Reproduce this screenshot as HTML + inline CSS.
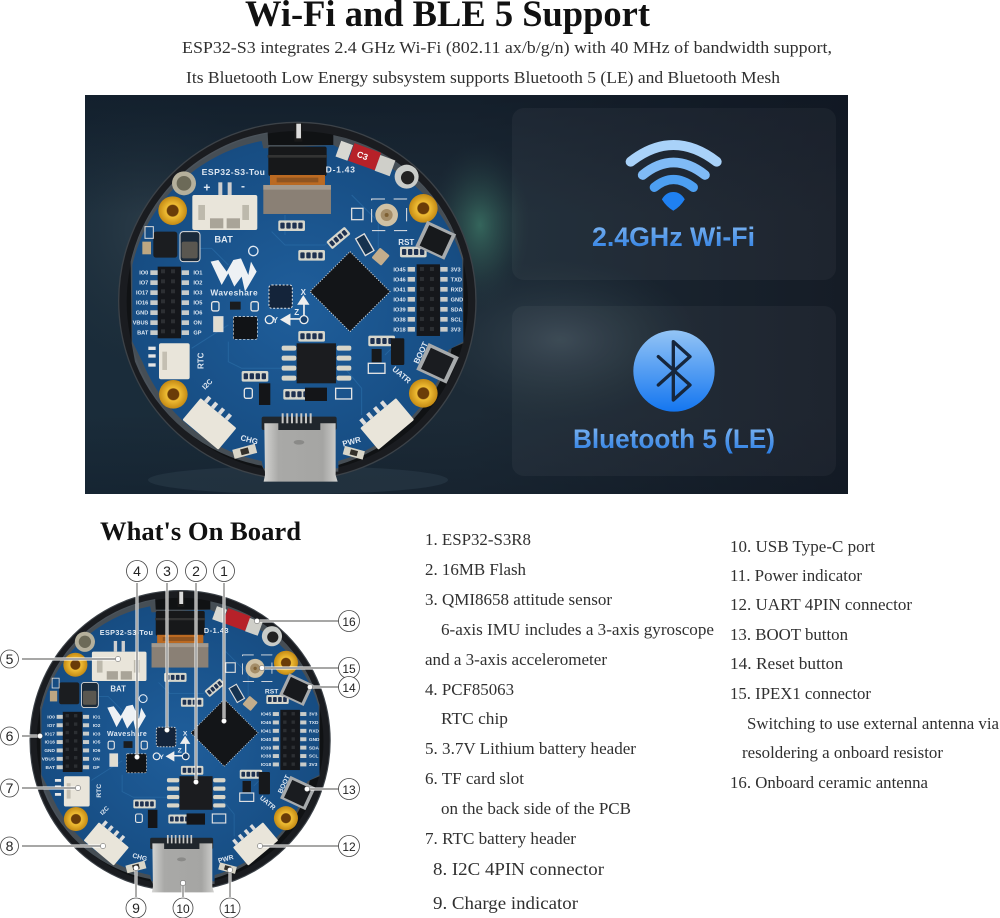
<!DOCTYPE html>
<html><head><meta charset="utf-8"><style>
html,body{margin:0;padding:0;background:#fff}
svg{display:block}
.s{font-family:"Liberation Serif",serif;fill:#303030;font-size:17px}
.p{font-family:"Liberation Sans",sans-serif;font-weight:700;fill:#dfe8f2}
.n{font-family:"Liberation Sans",sans-serif;font-size:14px;fill:#222;text-anchor:middle}
</style></head><body>
<svg width="1000" height="918" viewBox="0 0 1000 918" xmlns="http://www.w3.org/2000/svg">
<defs>
<linearGradient id="bg" x1="0" y1="0" x2="1" y2="0"><stop offset="0" stop-color="#1a2c3a"/><stop offset=".5" stop-color="#1c2a36"/><stop offset="1" stop-color="#151c26"/></linearGradient>
<linearGradient id="bgv" x1="0" y1="0" x2="0" y2="1"><stop offset="0" stop-color="#0c1420" stop-opacity=".5"/><stop offset=".3" stop-color="#0c1420" stop-opacity="0"/><stop offset=".8" stop-color="#0c1420" stop-opacity="0"/><stop offset="1" stop-color="#0c1420" stop-opacity=".3"/></linearGradient>
<radialGradient id="glow"><stop offset="0" stop-color="#3f7f6c" stop-opacity=".7"/><stop offset=".55" stop-color="#37655c" stop-opacity=".3"/><stop offset="1" stop-color="#2a4048" stop-opacity="0"/></radialGradient>
<radialGradient id="glow2"><stop offset="0" stop-color="#41515c" stop-opacity=".7"/><stop offset="1" stop-color="#2a3a44" stop-opacity="0"/></radialGradient>
<linearGradient id="txt" x1="0" y1="0" x2="0" y2="1"><stop offset="0" stop-color="#82b8f2"/><stop offset="1" stop-color="#2a7ce2"/></linearGradient>
<linearGradient id="bt" x1="0" y1="0" x2="0" y2="1"><stop offset="0" stop-color="#93c4f5"/><stop offset="1" stop-color="#1476f0"/></linearGradient>
<radialGradient id="pcb" cx=".5" cy=".5" r=".55"><stop offset="0" stop-color="#1f5e9b"/><stop offset="1" stop-color="#164b80"/></radialGradient>
<linearGradient id="usb" x1="0" y1="0" x2="1" y2="0"><stop offset="0" stop-color="#d5d5d3"/><stop offset=".2" stop-color="#a9a9a7"/><stop offset=".8" stop-color="#a5a5a3"/><stop offset="1" stop-color="#d0d0ce"/></linearGradient>
<radialGradient id="gold"><stop offset="0" stop-color="#6a3c08"/><stop offset=".38" stop-color="#6a3c08"/><stop offset=".45" stop-color="#f0bd34"/><stop offset="1" stop-color="#c48a14"/></radialGradient>

<g id="hdr">
 <rect x="0" y="0" width="70" height="215" fill="#15171b"/>
 <g fill="#2c2f33"><rect x="10" y="8" width="12" height="12"/><rect x="40" y="8" width="12" height="12"/><rect x="10" y="38" width="12" height="12"/><rect x="40" y="38" width="12" height="12"/><rect x="10" y="68" width="12" height="12"/><rect x="40" y="68" width="12" height="12"/><rect x="10" y="98" width="12" height="12"/><rect x="40" y="98" width="12" height="12"/><rect x="10" y="128" width="12" height="12"/><rect x="40" y="128" width="12" height="12"/><rect x="10" y="158" width="12" height="12"/><rect x="40" y="158" width="12" height="12"/><rect x="10" y="188" width="12" height="12"/><rect x="40" y="188" width="12" height="12"/></g>
</g>
<g id="pads"><rect x="0" y="0" width="22" height="14"/><rect x="0" y="30" width="22" height="14"/><rect x="0" y="60" width="22" height="14"/><rect x="0" y="90" width="22" height="14"/><rect x="0" y="120" width="22" height="14"/><rect x="0" y="150" width="22" height="14"/><rect x="0" y="180" width="22" height="14"/></g>
<g id="cluster"><rect x="0" y="0" width="80" height="32" rx="5" fill="#d6d6cc"/><g fill="#1d3050"><rect x="6" y="7" width="13" height="18" rx="3"/><rect x="24" y="7" width="13" height="18" rx="3"/><rect x="42" y="7" width="13" height="18" rx="3"/><rect x="60" y="7" width="13" height="18" rx="3"/></g></g>

<g id="board">
 <circle cx="637" cy="618" r="536" fill="#1a1c20" stroke="#3c4248" stroke-width="4"/>
 <circle cx="637" cy="620" r="512" fill="#101214"/>
 <path d="M137 500A508 508 0 0 1 548 112L550 150 745 150 745 120A508 508 0 0 1 1135 490L1135 745 1100 760 1092 800A505 505 0 0 1 760 1110L760 1130 540 1130 530 1112A505 505 0 0 1 150 800L140 745Z" fill="#7c8a96" opacity=".5"/>
 <path d="M142 510A492 492 0 0 1 530 138L535 160 745 150 760 158A488 488 0 0 1 1132 495L1135 740 1090 765 1080 810A488 488 0 0 1 760 1098L760 1120 535 1120 530 1098A488 488 0 0 1 172 800L142 740Z" fill="url(#pcb)"/>
 <g fill="none" stroke="#2a6ca6" stroke-width="3" opacity=".7"><path d="M560 410L600 450H720L760 410"/><path d="M430 740V800L470 820H620"/><path d="M800 300L880 380V460"/><path d="M320 760L430 690"/><path d="M780 820L830 880V960"/><path d="M600 360V420"/><path d="M300 460H380L430 510"/><path d="M950 730L900 780"/></g>
 <rect x="628" y="85" width="24" height="55" fill="#1a1a1a"/><rect x="634" y="86" width="14" height="44" fill="#dcdcdc"/>
 <rect x="550" y="155" width="175" height="88" rx="6" fill="#17181a"/>
 <rect x="548" y="180" width="178" height="8" fill="#333"/>
 <rect x="555" y="240" width="165" height="30" fill="#bb6a22"/>
 <rect x="575" y="248" width="125" height="14" fill="#8f5420"/>
 <rect x="535" y="270" width="203" height="87" fill="#8a8075"/>
 <rect x="535" y="270" width="203" height="14" fill="#a49a8e"/>
 <g transform="rotate(20 840 190)"><rect x="755" y="165" width="38" height="50" fill="#d8d8d2"/><rect x="795" y="158" width="85" height="56" fill="#b72129"/><rect x="880" y="165" width="48" height="50" fill="#cfcfc9"/></g>
 <circle cx="965" cy="245" r="36" fill="#c9ccc9"/><circle cx="968" cy="248" r="20" fill="#222"/>
 <circle cx="297" cy="265" r="36" fill="#b5b09c"/><circle cx="297" cy="265" r="22" fill="#6c6a58"/>
 <circle cx="263" cy="347" r="43" fill="url(#gold)"/><circle cx="1015" cy="340" r="43" fill="url(#gold)"/><circle cx="265" cy="898" r="43" fill="url(#gold)"/><circle cx="1015" cy="895" r="43" fill="url(#gold)"/>
 <rect x="322" y="300" width="195" height="105" rx="6" fill="#e9e5da"/><rect x="340" y="330" width="20" height="45" fill="#bdb9ac"/><rect x="472" y="330" width="20" height="45" fill="#bdb9ac"/><rect x="375" y="370" width="40" height="30" fill="#a9a498"/><rect x="425" y="370" width="40" height="30" fill="#a9a498"/>
 <rect x="400" y="262" width="12" height="38" fill="#cfcfcf"/><rect x="428" y="262" width="12" height="38" fill="#cfcfcf"/>
 <rect x="205" y="410" width="72" height="78" rx="8" fill="#1b1d20"/>
 <rect x="285" y="410" width="60" height="90" rx="10" fill="#1a2a3a" stroke="#ddd" stroke-width="3"/><rect x="290" y="440" width="48" height="50" rx="6" fill="#5a5750"/>
 <rect x="172" y="440" width="26" height="38" fill="#bda782"/>
 <rect x="180" y="395" width="25" height="35" fill="none" stroke="#ddd" stroke-width="3"/>
 <use href="#hdr" x="218" y="515"/><use href="#hdr" x="995" y="508"/>
 <g fill="#c9ccca"><use href="#pads" x="196" y="526"/><use href="#pads" x="290" y="526"/><use href="#pads" x="968" y="516"/><use href="#pads" x="1066" y="516"/></g>
 <path d="M377 500L400 495 425 530 445 495 468 490 490 540 498 500 515 530 480 590 470 545 448 575 430 535 410 570Z" fill="#eef1f4"/>
 <circle cx="505" cy="468" r="14" fill="none" stroke="#dfe8f2" stroke-width="4"/>
 <rect x="386" y="665" width="28" height="45" fill="#e1ddd0" stroke="#ddd" stroke-width="3"/>
 <rect x="380" y="620" width="22" height="28" rx="6" fill="none" stroke="#e5e5e5" stroke-width="4"/><rect x="498" y="620" width="22" height="28" rx="6" fill="none" stroke="#e5e5e5" stroke-width="4"/>
 <rect x="435" y="620" width="32" height="24" fill="#1a1c1e"/>
 <rect x="445" y="665" width="72" height="68" rx="4" fill="#111316" stroke="#e6e6e6" stroke-width="2" stroke-dasharray="7 5"/>
 <rect x="552" y="570" width="70" height="70" rx="8" fill="#14243a" stroke="#e6e6e6" stroke-width="3" stroke-dasharray="6 5"/>
 <path d="M657 672V610M655 605l-14 22h28zM657 672H595M590 674l24-14v28z" stroke="#eee" stroke-width="5" fill="#eee"/>
 <circle cx="657" cy="674" r="12" fill="#163f6c" stroke="#eee" stroke-width="4"/>
 <circle cx="553" cy="674" r="12" fill="none" stroke="#eee" stroke-width="4"/>
 <path d="M795 470L915 590 795 710 675 590Z" fill="#131518" stroke="#e8e8e8" stroke-width="3" stroke-dasharray="3 5"/>
 <use href="#cluster" x="580" y="376"/><use href="#cluster" x="640" y="465"/><use href="#cluster" x="640" y="708"/><use href="#cluster" x="470" y="828"/><use href="#cluster" x="595" y="882"/>
 <use href="#cluster" transform="rotate(-40 760 430) translate(725 415) scale(.9)"/>
 <use href="#cluster" x="850" y="722"/><use href="#cluster" x="945" y="455"/>
 <rect x="800" y="340" width="34" height="34" fill="none" stroke="#ddd" stroke-width="4"/>
 <rect x="860" y="312" width="105" height="95" fill="none" stroke="#e5e5e5" stroke-width="3" stroke-dasharray="40 26"/>
 <circle cx="905" cy="360" r="34" fill="#cfc1a4"/><circle cx="905" cy="360" r="18" fill="#a48d68"/><circle cx="905" cy="360" r="6" fill="#7e6033"/>
 <rect x="868" y="465" width="38" height="40" rx="4" fill="#c3ad8c" transform="rotate(40 887 485)"/>
 <rect x="825" y="420" width="30" height="58" fill="#15324f" stroke="#ddd" stroke-width="4" transform="rotate(-30 840 450)"/>
 <g transform="rotate(25 1055 435)"><rect x="1005" y="395" width="96" height="84" fill="#a7aaac"/><rect x="1016" y="404" width="74" height="68" fill="#17191c"/></g>
 <g transform="rotate(25 1060 805)"><rect x="1008" y="762" width="100" height="88" fill="#a7aaac"/><rect x="1020" y="772" width="76" height="70" fill="#1a1c20"/></g>
 <rect x="635" y="745" width="118" height="120" fill="#1b1c1f"/>
 <g fill="#d8d5c8"><rect x="590" y="752" width="44" height="15" rx="6"/><rect x="590" y="782" width="44" height="15" rx="6"/><rect x="590" y="812" width="44" height="15" rx="6"/><rect x="590" y="842" width="44" height="15" rx="6"/><rect x="755" y="752" width="44" height="15" rx="6"/><rect x="755" y="782" width="44" height="15" rx="6"/><rect x="755" y="812" width="44" height="15" rx="6"/><rect x="755" y="842" width="44" height="15" rx="6"/></g>
 <rect x="660" y="878" width="66" height="40" fill="#141518"/>
 <rect x="522" y="865" width="34" height="65" fill="#141518"/>
 <rect x="478" y="880" width="24" height="30" rx="6" fill="none" stroke="#e5e5e5" stroke-width="4"/>
 <rect x="752" y="880" width="48" height="32" fill="none" stroke="#e5e5e5" stroke-width="4"/>
 <rect x="918" y="730" width="40" height="80" rx="4" fill="#17191c"/><rect x="860" y="762" width="30" height="40" fill="#17191c"/>
 <rect x="850" y="805" width="50" height="30" fill="none" stroke="#e5e5e5" stroke-width="4"/>
 <rect x="222" y="745" width="92" height="108" rx="6" fill="#e9e5da"/><rect x="232" y="770" width="14" height="55" fill="#c4bfb2"/>
 <g fill="#e5e5e5"><rect x="190" y="755" width="22" height="10"/><rect x="190" y="778" width="22" height="10"/><rect x="190" y="805" width="22" height="10"/></g>
 <g transform="rotate(40 375 985)"><rect x="305" y="945" width="140" height="85" rx="4" fill="#e9e5da"/><rect x="318" y="925" width="12" height="20" fill="#ddd"/><rect x="345" y="925" width="12" height="20" fill="#ddd"/><rect x="372" y="925" width="12" height="20" fill="#ddd"/><rect x="399" y="925" width="12" height="20" fill="#ddd"/></g>
 <g transform="rotate(-40 905 985)"><rect x="835" y="945" width="140" height="85" rx="4" fill="#e9e5da"/><rect x="848" y="925" width="12" height="20" fill="#ddd"/><rect x="875" y="925" width="12" height="20" fill="#ddd"/><rect x="902" y="925" width="12" height="20" fill="#ddd"/><rect x="929" y="925" width="12" height="20" fill="#ddd"/></g>
 <g transform="rotate(-15 480 1072)"><rect x="445" y="1055" width="70" height="28" fill="#d8d5c8"/><rect x="468" y="1060" width="24" height="18" fill="#33302a"/></g>
 <g transform="rotate(15 805 1075)"><rect x="775" y="1060" width="62" height="26" fill="#d8d5c8"/><rect x="795" y="1065" width="22" height="16" fill="#33302a"/></g>
 <rect x="530" y="965" width="225" height="40" rx="6" fill="#20262c"/>
 <g fill="#c7c7c5"><rect x="590" y="955" width="6" height="30"/><rect x="604" y="955" width="6" height="30"/><rect x="618" y="955" width="6" height="30"/><rect x="632" y="955" width="6" height="30"/><rect x="646" y="955" width="6" height="30"/><rect x="660" y="955" width="6" height="30"/><rect x="674" y="955" width="6" height="30"/></g>
 <path d="M538 985H580V1005H706V985H752V1140L758 1160H536L540 1140Z" fill="url(#usb)"/>
 <ellipse cx="642" cy="1042" rx="16" ry="7" fill="#8a8a88"/>
</g>
</defs>

<text x="245" y="26" textLength="405" lengthAdjust="spacingAndGlyphs" font-family="Liberation Serif,serif" font-weight="700" font-size="37" fill="#111">Wi-Fi and BLE 5 Support</text>
<text class="s" x="182" y="53" textLength="650" lengthAdjust="spacingAndGlyphs">ESP32-S3 integrates 2.4 GHz Wi-Fi (802.11 ax/b/g/n) with 40 MHz of bandwidth support,</text>
<text class="s" x="186" y="83" textLength="594" lengthAdjust="spacingAndGlyphs">Its Bluetooth Low Energy subsystem supports Bluetooth 5 (LE) and Bluetooth Mesh</text>

<rect x="85" y="95" width="763" height="399" fill="url(#bg)"/>
<g clip-path="url(#panelclip)">
 <clipPath id="panelclip"><rect x="85" y="95" width="763" height="399"/></clipPath>
 <ellipse cx="480" cy="225" rx="50" ry="85" fill="url(#glow)"/>
 <ellipse cx="150" cy="230" rx="120" ry="140" fill="url(#glow2)" opacity=".6"/>
 <ellipse cx="560" cy="340" rx="140" ry="80" fill="url(#glow2)"/>
 <rect x="85" y="95" width="763" height="399" fill="url(#bgv)"/>
 <ellipse cx="298" cy="480" rx="150" ry="14" fill="#2b3d4c" opacity=".5"/>
 <rect x="512" y="108" width="324" height="172" rx="12" fill="#fff" opacity=".04"/>
 <rect x="512" y="306" width="324" height="170" rx="12" fill="#fff" opacity=".04"/>
</g>
<g transform="translate(85 95) scale(.3333)"><use href="#board"/>
 <g class="p" font-size="26"><text x="350" y="240" textLength="190">ESP32-S3-Tou</text><text x="722" y="233" textLength="88">D-1.43</text><text x="388" y="442" font-size="28">BAT</text><text x="376" y="601" font-size="25" textLength="142">Waveshare</text><text x="940" y="450" font-size="24">RST</text><text x="355" y="290" font-size="36">+</text><text x="468" y="285" font-size="36">-</text><text transform="translate(355 822) rotate(-90)" font-size="24">RTC</text><text transform="translate(1000 808) rotate(-65)" font-size="24">BOOT</text><text transform="translate(920 825) rotate(40)" font-size="24">UATR</text><text transform="translate(360 885) rotate(-45)" font-size="22">I2C</text><text transform="translate(465 1035) rotate(15)" font-size="24">CHG</text><text transform="translate(775 1055) rotate(-15)" font-size="24">PWR</text><text x="815" y="192" font-size="26" transform="rotate(20 835 185)" fill="#fff">C3</text><text x="647" y="600" font-size="24">X</text><text x="628" y="660" font-size="24">Z</text><text x="563" y="684" font-size="24">Y</text></g>
 <g class="p" font-size="17" text-anchor="end"><text x="190" y="539">IO0</text><text x="190" y="569">IO7</text><text x="190" y="599">IO17</text><text x="190" y="629">IO16</text><text x="190" y="659">GND</text><text x="190" y="689">VBUS</text><text x="190" y="719">BAT</text><text x="962" y="529">IO45</text><text x="962" y="559">IO46</text><text x="962" y="589">IO41</text><text x="962" y="619">IO40</text><text x="962" y="649">IO39</text><text x="962" y="679">IO38</text><text x="962" y="709">IO18</text></g>
 <g class="p" font-size="17"><text x="325" y="539">IO1</text><text x="325" y="569">IO2</text><text x="325" y="599">IO3</text><text x="325" y="629">IO5</text><text x="325" y="659">IO6</text><text x="325" y="689">ON</text><text x="325" y="719">GP</text><text x="1097" y="529">3V3</text><text x="1097" y="559">TXD</text><text x="1097" y="589">RXD</text><text x="1097" y="619">GND</text><text x="1097" y="649">SDA</text><text x="1097" y="679">SCL</text><text x="1097" y="709">3V3</text></g>
</g>

<g transform="translate(510 100) scale(.3333)" fill="none" stroke-linecap="round">
 <path d="M362 185Q490 85 620 185" stroke="#a9d2f9" stroke-width="30"/>
 <path d="M398 225Q490 150 585 225" stroke="#80bbf6" stroke-width="29"/>
 <path d="M433 262Q490 215 550 262" stroke="#4d9ff1" stroke-width="28"/>
 <path d="M490 278Q510 278 522 298 510 318 490 330 470 318 458 298 470 278 490 278Z" fill="#1f80f1" stroke="#1f80f1" stroke-width="4"/>
 <circle cx="492" cy="813" r="122" fill="url(#bt)" stroke="none"/>
 <path d="M445 770L540 855 490 900V725L540 770 445 855" stroke="#16263c" stroke-width="10" stroke-linejoin="round"/>
</g>
<text x="592" y="246" textLength="163" lengthAdjust="spacingAndGlyphs" font-family="Liberation Sans,sans-serif" font-weight="700" font-size="27" fill="url(#txt)">2.4GHz Wi-Fi</text>
<text x="573" y="448" textLength="202" lengthAdjust="spacingAndGlyphs" font-family="Liberation Sans,sans-serif" font-weight="700" font-size="27" fill="url(#txt)">Bluetooth 5 (LE)</text>

<text x="100" y="540" textLength="201" lengthAdjust="spacingAndGlyphs" font-family="Liberation Serif,serif" font-weight="700" font-size="26" fill="#111">What's On Board</text>

<g transform="translate(1.74 567.6) scale(.28)"><use href="#board"/>
 <g class="p" font-size="26"><text x="350" y="240" textLength="190">ESP32-S3-Tou</text><text x="722" y="233" textLength="88">D-1.43</text><text x="388" y="442" font-size="28">BAT</text><text x="376" y="601" font-size="25" textLength="142">Waveshare</text><text x="940" y="450" font-size="24">RST</text><text transform="translate(355 822) rotate(-90)" font-size="24">RTC</text><text transform="translate(1000 808) rotate(-65)" font-size="24">BOOT</text><text transform="translate(920 825) rotate(40)" font-size="24">UATR</text><text transform="translate(360 885) rotate(-45)" font-size="22">I2C</text><text transform="translate(465 1035) rotate(15)" font-size="24">CHG</text><text transform="translate(775 1055) rotate(-15)" font-size="24">PWR</text><text x="647" y="600" font-size="24">X</text><text x="628" y="660" font-size="24">Z</text><text x="563" y="684" font-size="24">Y</text></g>
 <g class="p" font-size="17" text-anchor="end"><text x="190" y="539">IO0</text><text x="190" y="569">IO7</text><text x="190" y="599">IO17</text><text x="190" y="629">IO16</text><text x="190" y="659">GND</text><text x="190" y="689">VBUS</text><text x="190" y="719">BAT</text><text x="962" y="529">IO45</text><text x="962" y="559">IO46</text><text x="962" y="589">IO41</text><text x="962" y="619">IO40</text><text x="962" y="649">IO39</text><text x="962" y="679">IO38</text><text x="962" y="709">IO18</text></g>
 <g class="p" font-size="17"><text x="325" y="539">IO1</text><text x="325" y="569">IO2</text><text x="325" y="599">IO3</text><text x="325" y="629">IO5</text><text x="325" y="659">IO6</text><text x="325" y="689">ON</text><text x="325" y="719">GP</text><text x="1097" y="529">3V3</text><text x="1097" y="559">TXD</text><text x="1097" y="589">RXD</text><text x="1097" y="619">GND</text><text x="1097" y="649">SDA</text><text x="1097" y="679">SCL</text><text x="1097" y="709">3V3</text></g>
</g>

<g fill="none" stroke="#fff" stroke-width="3"><path d="M224 583V721M196 583V782M167 583V730M137 583V757M257 621H340M22 659H118M262 668H340M310 687H340M22 736H40M22 788H78M307 789H340M22 846H103M260 846H340M136 897V868M183 897V883M230 897V870"/></g>
<g fill="none" stroke="#8a8a88" stroke-width="1.4"><path d="M224 583V721M196 583V782M167 583V730M137 583V757M257 621H340M22 659H118M262 668H340M310 687H340M22 736H40M22 788H78M307 789H340M22 846H103M260 846H340M136 897V868M183 897V883M230 897V870"/></g>
<g fill="#fff" stroke="#555" stroke-width=".5"><circle cx="224" cy="721" r="2.6"/><circle cx="196" cy="782" r="2.6"/><circle cx="167" cy="730" r="2.6"/><circle cx="137" cy="757" r="2.6"/><circle cx="257" cy="621" r="2.6"/><circle cx="118" cy="659" r="2.6"/><circle cx="262" cy="668" r="2.6"/><circle cx="310" cy="687" r="2.6"/><circle cx="40" cy="736" r="2.6"/><circle cx="78" cy="788" r="2.6"/><circle cx="307" cy="789" r="2.6"/><circle cx="103" cy="846" r="2.6"/><circle cx="260" cy="846" r="2.6"/><circle cx="136" cy="868" r="2.6"/><circle cx="183" cy="883" r="2.6"/><circle cx="230" cy="870" r="2.6"/></g>
<g fill="#fff" stroke="#444" stroke-width=".8"><circle cx="224" cy="571" r="10.5"/><circle cx="196" cy="571" r="10.5"/><circle cx="167" cy="571" r="10.5"/><circle cx="137" cy="571" r="10.5"/><circle cx="349" cy="621" r="10.5"/><circle cx="9.5" cy="659" r="9"/><circle cx="349" cy="668" r="10.5"/><circle cx="349" cy="687" r="10.5"/><circle cx="9.5" cy="736" r="9"/><circle cx="9.5" cy="788" r="9"/><circle cx="349" cy="789" r="10.5"/><circle cx="9.5" cy="846" r="9"/><circle cx="349" cy="846" r="10.5"/><circle cx="136" cy="908" r="10"/><circle cx="183" cy="908" r="10"/><circle cx="230" cy="908" r="10"/></g>
<g class="n"><text x="224" y="576">1</text><text x="196" y="576">2</text><text x="167" y="576">3</text><text x="137" y="576">4</text><text x="349" y="626" font-size="12">16</text><text x="9.5" y="664">5</text><text x="349" y="673" font-size="12">15</text><text x="349" y="692" font-size="12">14</text><text x="9.5" y="741">6</text><text x="9.5" y="793">7</text><text x="349" y="794" font-size="12">13</text><text x="9.5" y="851">8</text><text x="349" y="851" font-size="12">12</text><text x="136" y="913">9</text><text x="183" y="913" font-size="12">10</text><text x="230" y="913" font-size="12">11</text></g>

<g class="s">
<text lengthAdjust="spacingAndGlyphs" x="425" y="545" textLength="106">1. ESP32-S3R8</text>
<text lengthAdjust="spacingAndGlyphs" x="425" y="575" textLength="101">2. 16MB Flash</text>
<text lengthAdjust="spacingAndGlyphs" x="425" y="605" textLength="187">3. QMI8658 attitude sensor</text>
<text lengthAdjust="spacingAndGlyphs" x="441" y="635" textLength="273">6-axis IMU includes a 3-axis gyroscope</text>
<text lengthAdjust="spacingAndGlyphs" x="425" y="665" textLength="182">and a 3-axis accelerometer</text>
<text lengthAdjust="spacingAndGlyphs" x="425" y="695" textLength="89">4. PCF85063</text>
<text lengthAdjust="spacingAndGlyphs" x="441" y="724" textLength="67">RTC chip</text>
<text lengthAdjust="spacingAndGlyphs" x="425" y="754" textLength="211">5. 3.7V Lithium battery header</text>
<text lengthAdjust="spacingAndGlyphs" x="425" y="784" textLength="99">6. TF card slot</text>
<text lengthAdjust="spacingAndGlyphs" x="441" y="814" textLength="190">on the back side of the PCB</text>
<text lengthAdjust="spacingAndGlyphs" x="425" y="844" textLength="151">7. RTC battery header</text>
<text lengthAdjust="spacingAndGlyphs" x="433" y="875" textLength="171" font-size="18">8. I2C 4PIN connector</text>
<text lengthAdjust="spacingAndGlyphs" x="433" y="909" textLength="145" font-size="18">9. Charge indicator</text>
<text lengthAdjust="spacingAndGlyphs" x="730" y="552" textLength="145">10. USB Type-C port</text>
<text lengthAdjust="spacingAndGlyphs" x="730" y="581" textLength="132">11. Power indicator</text>
<text lengthAdjust="spacingAndGlyphs" x="730" y="610" textLength="182">12. UART 4PIN connector</text>
<text lengthAdjust="spacingAndGlyphs" x="730" y="640" textLength="118">13. BOOT button</text>
<text lengthAdjust="spacingAndGlyphs" x="730" y="669" textLength="113">14. Reset button</text>
<text lengthAdjust="spacingAndGlyphs" x="730" y="699" textLength="141">15. IPEX1 connector</text>
<text lengthAdjust="spacingAndGlyphs" x="747" y="729" textLength="252">Switching to use external antenna via</text>
<text lengthAdjust="spacingAndGlyphs" x="742" y="758" textLength="201">resoldering a onboard resistor</text>
<text lengthAdjust="spacingAndGlyphs" x="730" y="788" textLength="198">16. Onboard ceramic antenna</text>
</g>
</svg>
</body></html>
